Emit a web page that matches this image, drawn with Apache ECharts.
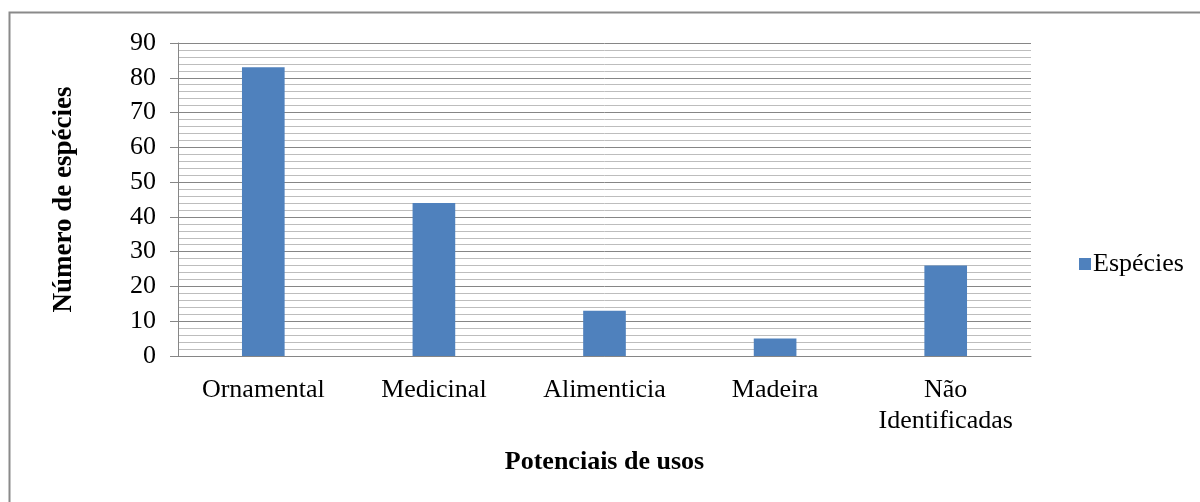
<!DOCTYPE html>
<html>
<head>
<meta charset="utf-8">
<script src="https://cdn.jsdelivr.net/npm/echarts@6/dist/echarts.min.js"></script>
<style>
  html, body { margin: 0; padding: 0; background: #fff; }
  #chart { width: 1200px; height: 502px; }
</style>
</head>
<body>
<div id="chart"></div>
<script>
// Potential uses of the recorded species
const categories = ['Ornamental', 'Medicinal', 'Alimenticia', 'Madeira', 'Não\nIdentificadas'];
const especies = [83, 44, 13, 5, 26];
const seriesName = 'Espécies';
const yTitle = 'Número de espécies';
const xTitle = 'Potenciais de usos';

const FONT = '"Liberation Serif", "Times New Roman", serif';
const FS = 26;
const MAJOR = '#868686';
const MINOR = '#bdbdbd';

const chart = echarts.init(document.getElementById('chart'), null, { renderer: 'canvas' });

chart.setOption({
  animation: false,
  backgroundColor: '#ffffff',
  textStyle: { fontFamily: FONT, color: '#000' },
  grid: { left: 178, right: 169, top: 43, bottom: 146, containLabel: false },
  graphic: [
    {
      type: 'rect',
      shape: { x: 9.5, y: 12.5, width: 1300, height: 600 },
      style: { fill: 'none', stroke: '#8a8a8a', lineWidth: 2 },
      silent: true
    }
  ],
  legend: {
    data: [seriesName],
    orient: 'vertical',
    left: 1074,
    top: 246,
    itemWidth: 12,
    itemHeight: 12,
    itemGap: 6,
    icon: 'rect',
    textStyle: { fontFamily: FONT, fontSize: FS, color: '#000', padding: [0, 0, 0, -3] }
  },
  xAxis: {
    type: 'category',
    data: categories,
    name: xTitle,
    nameLocation: 'middle',
    nameGap: 93,
    nameTextStyle: { fontFamily: FONT, fontSize: FS, fontWeight: 'bold', color: '#000' },
    axisLine: { show: true, lineStyle: { color: MAJOR, width: 1 } },
    axisTick: { show: false },
    axisLabel: { fontFamily: FONT, fontSize: FS, color: '#000', margin: 19, lineHeight: 31, interval: 0 },
    splitLine: { show: false }
  },
  yAxis: [
    {
      // gridlines every 2, labelled every 10; every fifth line is a major one
      type: 'value',
      min: 0,
      max: 90,
      interval: 2,
      name: yTitle,
      nameLocation: 'middle',
      nameGap: 100,
      nameTextStyle: { fontFamily: FONT, fontSize: 27, fontWeight: 'bold', color: '#000' },
      axisLine: { show: true, lineStyle: { color: MAJOR, width: 1 } },
      axisTick: { show: false },
      axisLabel: {
        fontFamily: FONT, fontSize: FS, color: '#000', margin: 22,
        formatter: v => (v % 10 === 0 ? String(v) : '')
      },
      splitLine: { show: true, lineStyle: { color: [MAJOR, MINOR, MINOR, MINOR, MINOR], width: 1 } }
    },
    {
      // major tick marks only
      type: 'value',
      position: 'left',
      min: 0,
      max: 90,
      interval: 10,
      axisLine: { show: false },
      axisTick: { show: true, length: 8, lineStyle: { color: MAJOR } },
      axisLabel: { show: false },
      splitLine: { show: false }
    }
  ],
  series: [
    {
      name: seriesName,
      type: 'bar',
      yAxisIndex: 0,
      data: especies,
      barWidth: '25%',
      itemStyle: { color: '#4F81BD' }
    }
  ]
});
</script>
</body>
</html>
